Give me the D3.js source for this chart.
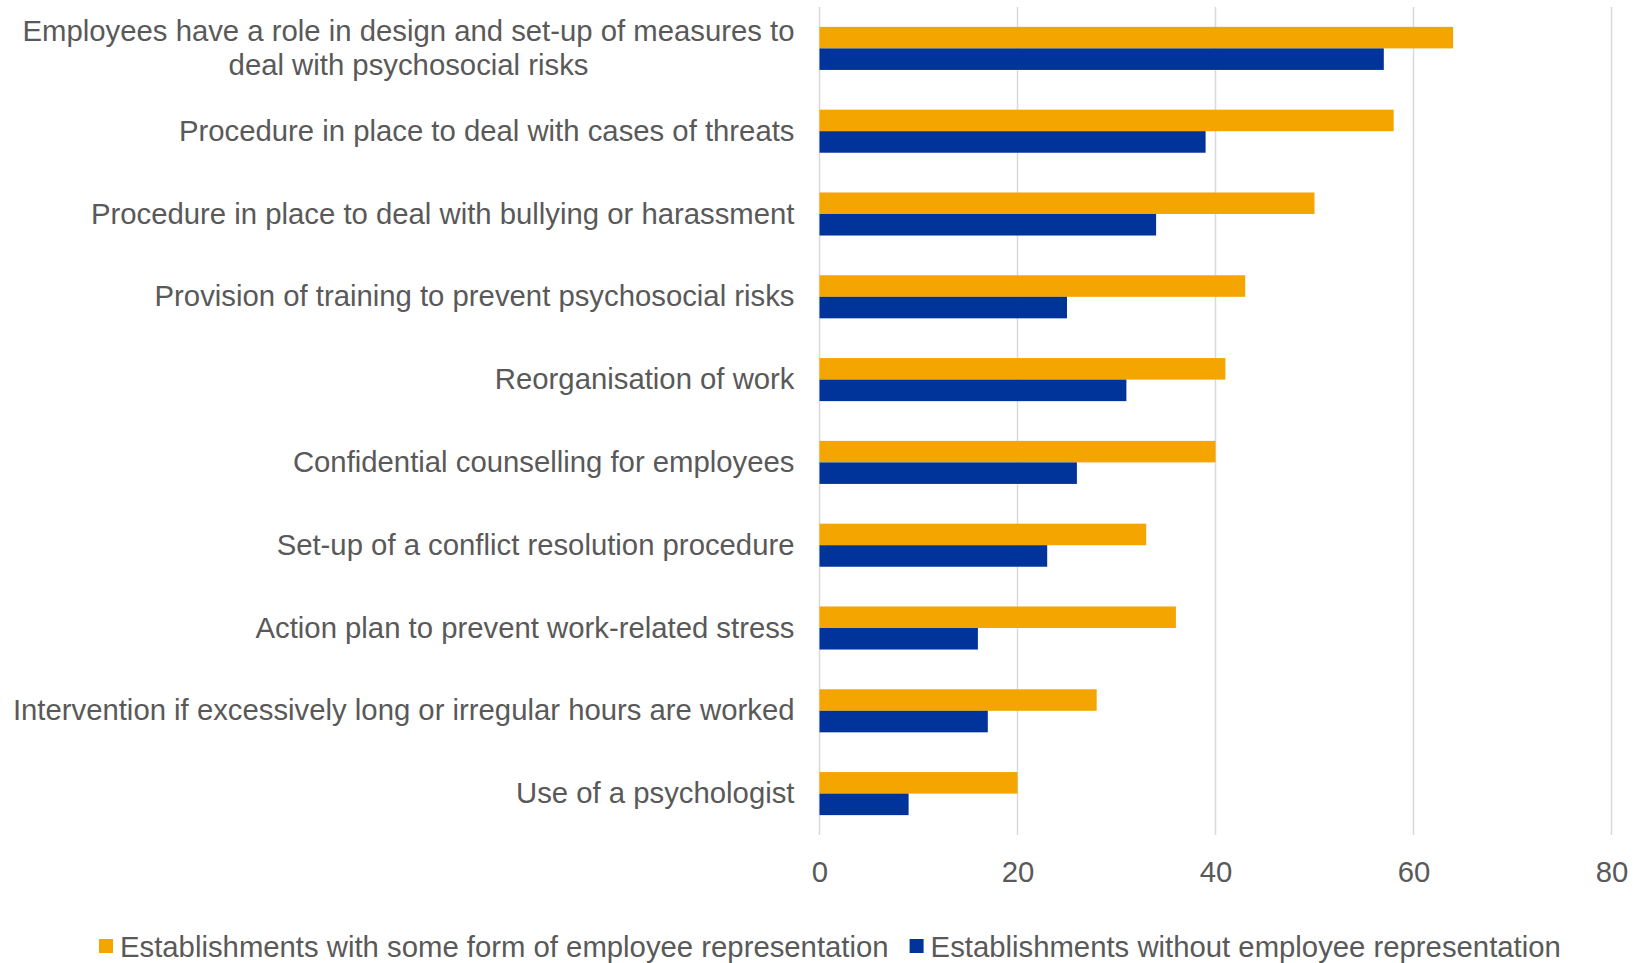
<!DOCTYPE html>
<html><head><meta charset="utf-8">
<script src="https://cdn.jsdelivr.net/npm/d3@7"></script>
<style>body{margin:0;background:#fff;} svg{display:block;font-family:"Liberation Sans",Arial,sans-serif;}</style>
</head><body>
<svg id="c" width="1639" height="963"></svg>
<script>
const categories = [
  ["Employees have a role in design and set-up of measures to","deal with psychosocial risks"],
  ["Procedure in place to deal with cases of threats"],
  ["Procedure in place to deal with bullying or harassment"],
  ["Provision of training to prevent psychosocial risks"],
  ["Reorganisation of work"],
  ["Confidential counselling for employees"],
  ["Set-up of a conflict resolution procedure"],
  ["Action plan to prevent work-related stress"],
  ["Intervention if excessively long or irregular hours are worked"],
  ["Use of a psychologist"]
];
const seriesNames = ["Establishments with some form of employee representation","Establishments without employee representation"];
const withRep = [64,58,50,43,41,40,33,36,28,20];
const withoutRep = [57,39,34,25,31,26,23,16,17,9];
const tickValues = [0,20,40,60,80];
const colors = ["#F5A500","#00349A"];
const textColor = "#595959";
const fs = 29.3;

const svg = d3.select("#c");
const pLeft = 819.5, pRight = 1611.5, pTop = 7, pBottom = 835;
const x = d3.scaleLinear().domain([0,80]).range([pLeft,pRight]);
const y = d3.scaleBand().domain(d3.range(categories.length)).range([pTop,pBottom]).paddingInner(0.48).paddingOuter(0.24);
const ySub = d3.scaleBand().domain([0,1]).range([0,y.bandwidth()]);

// gridlines
svg.append("g").selectAll("line").data(tickValues).join("line")
  .attr("x1",d=>x(d)).attr("x2",d=>x(d)).attr("y1",pTop).attr("y2",pBottom)
  .attr("stroke","#d9d9d9").attr("stroke-width",1.5);

// bars
const series = [withRep, withoutRep];
series.forEach((vals,si)=>{
  svg.append("g").selectAll("rect").data(vals).join("rect")
    .attr("x",x(0)).attr("y",(d,i)=>y(i)+ySub(si))
    .attr("width",d=>x(d)-x(0)).attr("height",ySub.bandwidth())
    .attr("fill",colors[si]);
});

// x axis tick labels
const xAxis = d3.axisBottom(x).tickValues(tickValues).tickSize(0).tickPadding(0);
const gx = svg.append("g").attr("transform",`translate(0,${pBottom})`).call(xAxis);
gx.select(".domain").remove();
gx.selectAll("text").attr("font-size",fs).attr("fill",textColor).attr("font-family","Liberation Sans, Arial, sans-serif")
  .attr("dy",null).attr("y",36).attr("dominant-baseline","central");

// category labels
const labelRight = 794.5;
const lineH = 34;
categories.forEach((lines,i)=>{
  const cy = y(i)+y.bandwidth()/2 - 1;
  const g = svg.append("g");
  const n = lines.length;
  const texts = lines.map((t,k)=> g.append("text").text(t)
      .attr("font-size",fs).attr("fill",textColor)
      .attr("dominant-baseline","central")
      .attr("y", cy + (k-(n-1)/2)*lineH));
  const maxW = d3.max(texts, t=>t.node().getComputedTextLength());
  texts.forEach(t=>t.attr("text-anchor","middle").attr("x", labelRight - maxW/2));
});

// legend
const legY = 946;
let lx = 99;
seriesNames.forEach((name,si)=>{
  svg.append("rect").attr("x",lx).attr("y",legY-7).attr("width",14).attr("height",14).attr("fill",colors[si]);
  const t = svg.append("text").text(name).attr("x",lx+21).attr("y",legY)
    .attr("font-size",fs).attr("fill",textColor).attr("dominant-baseline","central");
  lx = lx + 21 + t.node().getComputedTextLength() + 21;
});
</script>
</body></html>
